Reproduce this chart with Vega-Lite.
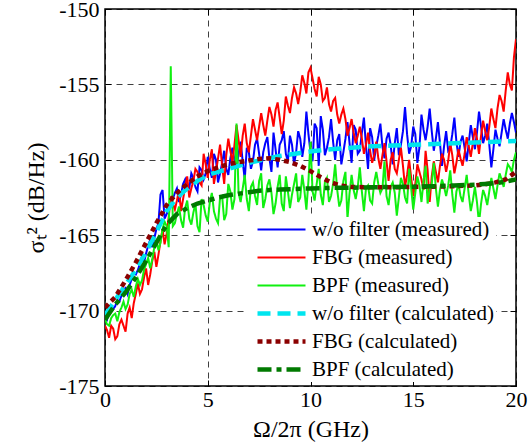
{
"$schema": "https://vega.github.io/schema/vega-lite/v6.json",
"width": 411, "height": 377,
"autosize": "none",
"padding": {"left": 105, "top": 9, "right": 12, "bottom": 60},
"config": {
  "font": "Liberation Serif",
  "view": {"stroke": "#000", "strokeWidth": 1.5},
  "axis": {"labelFont": "Liberation Serif", "titleFont": "Liberation Serif", "labelFontSize": 22, "titleFontSize": 24, "labelColor": "#000", "titleColor": "#000", "titleFontWeight": "normal", "tickColor": "#000", "domain": false, "gridColor": "#000", "gridDash": [6, 5], "gridOpacity": 0.75, "tickSize": -6, "tickWidth": 1}
},
"datasets": {
"meas": [
{"x":0.0,"wo_m":-170.4,"fbg_m":-171.0,"bpf_m":-170.6},
{"x":0.2,"wo_m":-170.1,"fbg_m":-171.8,"bpf_m":-171.0},
{"x":0.4,"wo_m":-169.9,"fbg_m":-171.2,"bpf_m":-170.3},
{"x":0.6,"wo_m":-169.3,"fbg_m":-171.7,"bpf_m":-170.7},
{"x":0.8,"wo_m":-169.0,"fbg_m":-170.6,"bpf_m":-169.8},
{"x":1.0,"wo_m":-168.5,"fbg_m":-171.4,"bpf_m":-169.9},
{"x":1.2,"wo_m":-168.3,"fbg_m":-169.8,"bpf_m":-168.9},
{"x":1.4,"wo_m":-167.5,"fbg_m":-169.5,"bpf_m":-169.1},
{"x":1.6,"wo_m":-167.3,"fbg_m":-168.2,"bpf_m":-167.9},
{"x":1.8,"wo_m":-166.4,"fbg_m":-168.6,"bpf_m":-168.0},
{"x":2.0,"wo_m":-166.2,"fbg_m":-167.2,"bpf_m":-166.9},
{"x":2.2,"wo_m":-165.3,"fbg_m":-167.6,"bpf_m":-167.2},
{"x":2.4,"wo_m":-165.2,"fbg_m":-166.1,"bpf_m":-165.8},
{"x":2.6,"wo_m":-164.2,"fbg_m":-166.3,"bpf_m":-166.0},
{"x":2.8,"wo_m":-162.0,"fbg_m":-164.6,"bpf_m":-164.6},
{"x":3.0,"wo_m":-163.6,"fbg_m":-164.9,"bpf_m":-164.4},
{"x":3.1,"wo_m":-163.2,"fbg_m":-163.8,"bpf_m":-165.8},
{"x":3.2,"wo_m":-162.9,"fbg_m":-162.4,"bpf_m":-153.8},
{"x":3.3,"wo_m":-162.6,"fbg_m":-162.9,"bpf_m":-164.4},
{"x":3.4,"wo_m":-162.2,"fbg_m":-163.3,"bpf_m":-164.2},
{"x":3.6,"wo_m":-162.8,"fbg_m":-162.0,"bpf_m":-163.1},
{"x":3.8,"wo_m":-161.6,"fbg_m":-162.6,"bpf_m":-164.5},
{"x":4.0,"wo_m":-162.0,"fbg_m":-161.1,"bpf_m":-162.7},
{"x":4.2,"wo_m":-160.9,"fbg_m":-161.9,"bpf_m":-164.3},
{"x":4.4,"wo_m":-161.8,"fbg_m":-160.6,"bpf_m":-162.9},
{"x":4.6,"wo_m":-160.5,"fbg_m":-161.5,"bpf_m":-164.8},
{"x":4.8,"wo_m":-161.3,"fbg_m":-159.6,"bpf_m":-163.0},
{"x":5.0,"wo_m":-159.8,"fbg_m":-161.2,"bpf_m":-164.1},
{"x":5.2,"wo_m":-161.2,"fbg_m":-159.3,"bpf_m":-162.2},
{"x":5.4,"wo_m":-160.0,"fbg_m":-160.8,"bpf_m":-163.9},
{"x":5.6,"wo_m":-160.9,"fbg_m":-159.0,"bpf_m":-162.5},
{"x":5.8,"wo_m":-159.4,"fbg_m":-161.6,"bpf_m":-164.0},
{"x":6.0,"wo_m":-161.0,"fbg_m":-158.6,"bpf_m":-161.6},
{"x":6.2,"wo_m":-159.2,"fbg_m":-160.2,"bpf_m":-163.3},
{"x":6.3,"wo_m":-160.0,"fbg_m":-159.0,"bpf_m":-162.6},
{"x":6.4,"wo_m":-160.6,"fbg_m":-157.7,"bpf_m":-157.6},
{"x":6.5,"wo_m":-159.6,"fbg_m":-158.7,"bpf_m":-162.2},
{"x":6.6,"wo_m":-158.8,"fbg_m":-159.8,"bpf_m":-162.8},
{"x":6.8,"wo_m":-161.3,"fbg_m":-157.6,"bpf_m":-161.0},
{"x":7.0,"wo_m":-159.5,"fbg_m":-159.5,"bpf_m":-163.4},
{"x":7.2,"wo_m":-160.1,"fbg_m":-157.3,"bpf_m":-161.5},
{"x":7.4,"wo_m":-158.6,"fbg_m":-158.7,"bpf_m":-163.0},
{"x":7.6,"wo_m":-160.7,"fbg_m":-156.9,"bpf_m":-160.9},
{"x":7.8,"wo_m":-158.9,"fbg_m":-158.4,"bpf_m":-162.6},
{"x":8.0,"wo_m":-159.9,"fbg_m":-156.5,"bpf_m":-161.3},
{"x":8.2,"wo_m":-158.2,"fbg_m":-157.8,"bpf_m":-163.6},
{"x":8.4,"wo_m":-160.5,"fbg_m":-156.2,"bpf_m":-161.8},
{"x":8.6,"wo_m":-158.7,"fbg_m":-158.3,"bpf_m":-162.9},
{"x":8.8,"wo_m":-159.6,"fbg_m":-155.8,"bpf_m":-161.1},
{"x":9.0,"wo_m":-158.4,"fbg_m":-156.9,"bpf_m":-163.2},
{"x":9.2,"wo_m":-160.3,"fbg_m":-155.2,"bpf_m":-161.6},
{"x":9.4,"wo_m":-158.1,"fbg_m":-156.3,"bpf_m":-162.8},
{"x":9.6,"wo_m":-159.8,"fbg_m":-154.4,"bpf_m":-161.0},
{"x":9.8,"wo_m":-156.8,"fbg_m":-155.6,"bpf_m":-163.3},
{"x":10.0,"wo_m":-159.5,"fbg_m":-153.9,"bpf_m":-158.8},
{"x":10.2,"wo_m":-157.6,"fbg_m":-155.3,"bpf_m":-162.7},
{"x":10.4,"wo_m":-160.4,"fbg_m":-154.5,"bpf_m":-160.6},
{"x":10.6,"wo_m":-158.0,"fbg_m":-156.1,"bpf_m":-163.0},
{"x":10.8,"wo_m":-159.2,"fbg_m":-155.2,"bpf_m":-161.2},
{"x":11.0,"wo_m":-157.3,"fbg_m":-156.8,"bpf_m":-162.4},
{"x":11.2,"wo_m":-160.0,"fbg_m":-155.9,"bpf_m":-160.3},
{"x":11.4,"wo_m":-158.3,"fbg_m":-157.6,"bpf_m":-163.1},
{"x":11.6,"wo_m":-159.5,"fbg_m":-156.6,"bpf_m":-161.4},
{"x":11.8,"wo_m":-157.5,"fbg_m":-158.4,"bpf_m":-163.9},
{"x":12.0,"wo_m":-160.2,"fbg_m":-157.3,"bpf_m":-161.0},
{"x":12.2,"wo_m":-158.0,"fbg_m":-158.9,"bpf_m":-162.6},
{"x":12.4,"wo_m":-159.4,"fbg_m":-157.8,"bpf_m":-160.5},
{"x":12.6,"wo_m":-157.2,"fbg_m":-159.6,"bpf_m":-163.4},
{"x":12.8,"wo_m":-160.6,"fbg_m":-158.2,"bpf_m":-161.7},
{"x":13.0,"wo_m":-158.5,"fbg_m":-160.2,"bpf_m":-162.9},
{"x":13.2,"wo_m":-159.1,"fbg_m":-158.8,"bpf_m":-160.8},
{"x":13.4,"wo_m":-157.6,"fbg_m":-160.6,"bpf_m":-162.2},
{"x":13.6,"wo_m":-159.9,"fbg_m":-158.9,"bpf_m":-160.1},
{"x":13.8,"wo_m":-158.2,"fbg_m":-161.4,"bpf_m":-163.0},
{"x":14.0,"wo_m":-160.3,"fbg_m":-159.5,"bpf_m":-161.5},
{"x":14.2,"wo_m":-157.9,"fbg_m":-160.9,"bpf_m":-163.7},
{"x":14.4,"wo_m":-159.0,"fbg_m":-159.2,"bpf_m":-161.2},
{"x":14.6,"wo_m":-156.5,"fbg_m":-161.8,"bpf_m":-162.5},
{"x":14.8,"wo_m":-159.6,"fbg_m":-160.0,"bpf_m":-160.6},
{"x":15.0,"wo_m":-157.8,"fbg_m":-162.4,"bpf_m":-163.3},
{"x":15.2,"wo_m":-160.2,"fbg_m":-160.3,"bpf_m":-161.1},
{"x":15.4,"wo_m":-157.0,"fbg_m":-161.3,"bpf_m":-162.8},
{"x":15.6,"wo_m":-158.7,"fbg_m":-159.4,"bpf_m":-160.4},
{"x":15.8,"wo_m":-156.6,"fbg_m":-162.8,"bpf_m":-161.9},
{"x":16.0,"wo_m":-159.4,"fbg_m":-160.1,"bpf_m":-160.2},
{"x":16.2,"wo_m":-157.5,"fbg_m":-161.5,"bpf_m":-163.1},
{"x":16.4,"wo_m":-160.4,"fbg_m":-159.6,"bpf_m":-161.3},
{"x":16.6,"wo_m":-158.1,"fbg_m":-160.8,"bpf_m":-162.4},
{"x":16.8,"wo_m":-159.2,"fbg_m":-158.9,"bpf_m":-160.7},
{"x":17.0,"wo_m":-157.2,"fbg_m":-160.9,"bpf_m":-163.5},
{"x":17.2,"wo_m":-159.8,"fbg_m":-159.3,"bpf_m":-161.6},
{"x":17.4,"wo_m":-158.4,"fbg_m":-160.4,"bpf_m":-162.8},
{"x":17.6,"wo_m":-160.1,"fbg_m":-158.5,"bpf_m":-161.0},
{"x":17.8,"wo_m":-157.7,"fbg_m":-159.8,"bpf_m":-163.4},
{"x":18.0,"wo_m":-159.3,"fbg_m":-157.9,"bpf_m":-161.8},
{"x":18.2,"wo_m":-156.8,"fbg_m":-159.6,"bpf_m":-164.2},
{"x":18.4,"wo_m":-158.9,"fbg_m":-157.4,"bpf_m":-162.0},
{"x":18.6,"wo_m":-157.6,"fbg_m":-158.7,"bpf_m":-163.0},
{"x":18.8,"wo_m":-160.5,"fbg_m":-156.6,"bpf_m":-161.2},
{"x":19.0,"wo_m":-158.0,"fbg_m":-157.9,"bpf_m":-162.6},
{"x":19.2,"wo_m":-159.1,"fbg_m":-155.7,"bpf_m":-160.9},
{"x":19.4,"wo_m":-157.3,"fbg_m":-156.8,"bpf_m":-161.8},
{"x":19.6,"wo_m":-158.6,"fbg_m":-154.2,"bpf_m":-160.3},
{"x":19.8,"wo_m":-156.9,"fbg_m":-155.4,"bpf_m":-160.8},
{"x":20.0,"wo_m":-158.2,"fbg_m":-152.0,"bpf_m":-159.5},
{"x":0.1,"wo_m":-170.6,"fbg_m":-171.3,"bpf_m":-170.9},
{"x":0.3,"wo_m":-169.8,"fbg_m":-171.0,"bpf_m":-170.5},
{"x":0.5,"wo_m":-169.7,"fbg_m":-171.9,"bpf_m":-170.2},
{"x":0.7,"wo_m":-169.4,"fbg_m":-170.9,"bpf_m":-170.1},
{"x":0.9,"wo_m":-168.6,"fbg_m":-171.0,"bpf_m":-169.4},
{"x":1.1,"wo_m":-168.9,"fbg_m":-170.2,"bpf_m":-169.6},
{"x":1.3,"wo_m":-167.9,"fbg_m":-170.5,"bpf_m":-168.6},
{"x":1.5,"wo_m":-167.6,"fbg_m":-168.9,"bpf_m":-168.4},
{"x":1.7,"wo_m":-166.9,"fbg_m":-168.9,"bpf_m":-168.3},
{"x":1.9,"wo_m":-166.8,"fbg_m":-167.8,"bpf_m":-167.3},
{"x":2.1,"wo_m":-165.7,"fbg_m":-168.3,"bpf_m":-166.5},
{"x":2.3,"wo_m":-165.8,"fbg_m":-166.7,"bpf_m":-166.6},
{"x":2.5,"wo_m":-164.6,"fbg_m":-167.1,"bpf_m":-165.3},
{"x":2.7,"wo_m":-162.3,"fbg_m":-165.4,"bpf_m":-165.5},
{"x":2.9,"wo_m":-163.9,"fbg_m":-165.6,"bpf_m":-164.1},
{"x":3.5,"wo_m":-161.9,"fbg_m":-162.7,"bpf_m":-163.6},
{"x":3.7,"wo_m":-162.3,"fbg_m":-163.4,"bpf_m":-164.0},
{"x":3.9,"wo_m":-161.3,"fbg_m":-161.8,"bpf_m":-163.2},
{"x":4.1,"wo_m":-161.9,"fbg_m":-162.5,"bpf_m":-163.9},
{"x":4.3,"wo_m":-161.2,"fbg_m":-161.4,"bpf_m":-163.5},
{"x":4.5,"wo_m":-162.1,"fbg_m":-160.8,"bpf_m":-164.4},
{"x":4.7,"wo_m":-160.7,"fbg_m":-161.7,"bpf_m":-162.6},
{"x":4.9,"wo_m":-160.9,"fbg_m":-160.3,"bpf_m":-163.7},
{"x":5.1,"wo_m":-160.6,"fbg_m":-160.0,"bpf_m":-162.8},
{"x":5.3,"wo_m":-159.6,"fbg_m":-161.6,"bpf_m":-163.4},
{"x":5.5,"wo_m":-161.5,"fbg_m":-159.9,"bpf_m":-164.2},
{"x":5.7,"wo_m":-160.2,"fbg_m":-160.4,"bpf_m":-162.4},
{"x":5.9,"wo_m":-160.6,"fbg_m":-159.7,"bpf_m":-163.6},
{"x":6.1,"wo_m":-159.9,"fbg_m":-159.4,"bpf_m":-162.1},
{"x":6.7,"wo_m":-160.1,"fbg_m":-158.4,"bpf_m":-161.9},
{"x":6.9,"wo_m":-159.2,"fbg_m":-158.9,"bpf_m":-162.6},
{"x":7.1,"wo_m":-160.6,"fbg_m":-158.4,"bpf_m":-161.8},
{"x":7.3,"wo_m":-159.0,"fbg_m":-158.0,"bpf_m":-162.4},
{"x":7.5,"wo_m":-159.6,"fbg_m":-157.8,"bpf_m":-161.4},
{"x":7.7,"wo_m":-159.5,"fbg_m":-157.7,"bpf_m":-163.2},
{"x":7.9,"wo_m":-158.5,"fbg_m":-157.4,"bpf_m":-161.7},
{"x":8.1,"wo_m":-160.8,"fbg_m":-157.0,"bpf_m":-162.2},
{"x":8.3,"wo_m":-159.3,"fbg_m":-156.7,"bpf_m":-162.9},
{"x":8.5,"wo_m":-159.0,"fbg_m":-157.2,"bpf_m":-161.0},
{"x":8.7,"wo_m":-158.1,"fbg_m":-157.4,"bpf_m":-163.4},
{"x":8.9,"wo_m":-160.1,"fbg_m":-156.4,"bpf_m":-162.1},
{"x":9.1,"wo_m":-159.0,"fbg_m":-155.9,"bpf_m":-162.3},
{"x":9.3,"wo_m":-159.5,"fbg_m":-155.6,"bpf_m":-160.9},
{"x":9.5,"wo_m":-158.6,"fbg_m":-155.5,"bpf_m":-162.5},
{"x":9.7,"wo_m":-158.9,"fbg_m":-154.9,"bpf_m":-162.0},
{"x":9.9,"wo_m":-158.3,"fbg_m":-154.2,"bpf_m":-161.4},
{"x":10.1,"wo_m":-160.1,"fbg_m":-154.6,"bpf_m":-162.1},
{"x":10.3,"wo_m":-157.9,"fbg_m":-155.8,"bpf_m":-161.6},
{"x":10.5,"wo_m":-157.1,"fbg_m":-155.0,"bpf_m":-162.3},
{"x":10.7,"wo_m":-159.7,"fbg_m":-155.9,"bpf_m":-161.5},
{"x":10.9,"wo_m":-158.5,"fbg_m":-156.3,"bpf_m":-162.8},
{"x":11.1,"wo_m":-158.8,"fbg_m":-156.1,"bpf_m":-161.6},
{"x":11.3,"wo_m":-158.7,"fbg_m":-157.0,"bpf_m":-162.0},
{"x":11.5,"wo_m":-160.3,"fbg_m":-157.0,"bpf_m":-162.7},
{"x":11.7,"wo_m":-158.6,"fbg_m":-157.3,"bpf_m":-160.8},
{"x":11.9,"wo_m":-158.9,"fbg_m":-157.9,"bpf_m":-162.2},
{"x":12.1,"wo_m":-157.7,"fbg_m":-158.2,"bpf_m":-162.0},
{"x":12.3,"wo_m":-159.6,"fbg_m":-158.4,"bpf_m":-161.8},
{"x":12.5,"wo_m":-158.2,"fbg_m":-158.6,"bpf_m":-162.1},
{"x":12.7,"wo_m":-159.1,"fbg_m":-159.0,"bpf_m":-161.9},
{"x":12.9,"wo_m":-157.9,"fbg_m":-159.4,"bpf_m":-162.7},
{"x":13.1,"wo_m":-160.0,"fbg_m":-159.7,"bpf_m":-161.5},
{"x":13.3,"wo_m":-158.4,"fbg_m":-159.9,"bpf_m":-161.6},
{"x":13.5,"wo_m":-159.1,"fbg_m":-159.7,"bpf_m":-161.9},
{"x":13.7,"wo_m":-158.6,"fbg_m":-160.1,"bpf_m":-162.4},
{"x":13.9,"wo_m":-159.0,"fbg_m":-160.0,"bpf_m":-161.8},
{"x":14.1,"wo_m":-158.9,"fbg_m":-160.6,"bpf_m":-162.2},
{"x":14.3,"wo_m":-159.7,"fbg_m":-160.0,"bpf_m":-162.5},
{"x":14.5,"wo_m":-158.1,"fbg_m":-160.4,"bpf_m":-161.6},
{"x":14.7,"wo_m":-158.3,"fbg_m":-161.0,"bpf_m":-162.9},
{"x":14.9,"wo_m":-159.1,"fbg_m":-161.2,"bpf_m":-161.9},
{"x":15.1,"wo_m":-158.3,"fbg_m":-161.6,"bpf_m":-162.2},
{"x":15.3,"wo_m":-159.2,"fbg_m":-160.8,"bpf_m":-161.7},
{"x":15.5,"wo_m":-158.0,"fbg_m":-162.0,"bpf_m":-161.4},
{"x":15.7,"wo_m":-157.8,"fbg_m":-160.7,"bpf_m":-162.9},
{"x":15.9,"wo_m":-158.1,"fbg_m":-161.1,"bpf_m":-161.6},
{"x":16.1,"wo_m":-158.6,"fbg_m":-160.8,"bpf_m":-161.9},
{"x":16.3,"wo_m":-158.9,"fbg_m":-160.4,"bpf_m":-162.0},
{"x":16.5,"wo_m":-159.1,"fbg_m":-160.0,"bpf_m":-161.8},
{"x":16.7,"wo_m":-159.4,"fbg_m":-160.1,"bpf_m":-161.7},
{"x":16.9,"wo_m":-158.3,"fbg_m":-159.7,"bpf_m":-162.3},
{"x":17.1,"wo_m":-158.8,"fbg_m":-160.2,"bpf_m":-162.1},
{"x":17.3,"wo_m":-158.8,"fbg_m":-159.9,"bpf_m":-162.4},
{"x":17.5,"wo_m":-159.2,"fbg_m":-159.6,"bpf_m":-161.9},
{"x":17.7,"wo_m":-158.9,"fbg_m":-159.1,"bpf_m":-162.3},
{"x":17.9,"wo_m":-158.5,"fbg_m":-158.9,"bpf_m":-162.7},
{"x":18.1,"wo_m":-158.2,"fbg_m":-158.6,"bpf_m":-162.8},
{"x":18.3,"wo_m":-157.8,"fbg_m":-158.4,"bpf_m":-162.9},
{"x":18.5,"wo_m":-158.4,"fbg_m":-158.1,"bpf_m":-162.4},
{"x":18.7,"wo_m":-159.0,"fbg_m":-157.8,"bpf_m":-162.1},
{"x":18.9,"wo_m":-159.3,"fbg_m":-157.3,"bpf_m":-161.9},
{"x":19.1,"wo_m":-158.6,"fbg_m":-156.6,"bpf_m":-161.7},
{"x":19.3,"wo_m":-158.2,"fbg_m":-156.1,"bpf_m":-161.3},
{"x":19.5,"wo_m":-158.0,"fbg_m":-155.4,"bpf_m":-161.0},
{"x":19.7,"wo_m":-157.6,"fbg_m":-155.0,"bpf_m":-160.5},
{"x":19.9,"wo_m":-157.5,"fbg_m":-153.2,"bpf_m":-160.0}
],
"calc": [
{"x":0,"wo_c":-170.3,"fbg_c":-169.8,"bpf_c":-170.6},
{"x":0.5,"wo_c":-169.3,"fbg_c":-169.1,"bpf_c":-169.6},
{"x":1,"wo_c":-168.3,"fbg_c":-168.0,"bpf_c":-168.8},
{"x":1.5,"wo_c":-167.3,"fbg_c":-166.8,"bpf_c":-167.8},
{"x":2,"wo_c":-166.1,"fbg_c":-165.5,"bpf_c":-166.7},
{"x":2.5,"wo_c":-164.8,"fbg_c":-164.2,"bpf_c":-165.5},
{"x":3,"wo_c":-163.4,"fbg_c":-163.0,"bpf_c":-164.3},
{"x":3.5,"wo_c":-162.5,"fbg_c":-162.2,"bpf_c":-163.6},
{"x":4,"wo_c":-161.9,"fbg_c":-161.6,"bpf_c":-163.2},
{"x":4.5,"wo_c":-161.4,"fbg_c":-161.1,"bpf_c":-162.9},
{"x":5,"wo_c":-161.0,"fbg_c":-160.75,"bpf_c":-162.7},
{"x":5.5,"wo_c":-160.8,"fbg_c":-160.5,"bpf_c":-162.5},
{"x":6,"wo_c":-160.6,"fbg_c":-160.3,"bpf_c":-162.35},
{"x":6.5,"wo_c":-160.4,"fbg_c":-160.15,"bpf_c":-162.25},
{"x":7,"wo_c":-160.2,"fbg_c":-160.05,"bpf_c":-162.15},
{"x":7.5,"wo_c":-160.05,"fbg_c":-159.95,"bpf_c":-162.05},
{"x":8,"wo_c":-159.9,"fbg_c":-159.9,"bpf_c":-162.0},
{"x":8.5,"wo_c":-159.75,"fbg_c":-160.0,"bpf_c":-161.97},
{"x":9,"wo_c":-159.65,"fbg_c":-160.15,"bpf_c":-161.95},
{"x":9.5,"wo_c":-159.55,"fbg_c":-160.4,"bpf_c":-161.92},
{"x":10,"wo_c":-159.45,"fbg_c":-160.75,"bpf_c":-161.9},
{"x":10.5,"wo_c":-159.37,"fbg_c":-161.15,"bpf_c":-161.88},
{"x":11,"wo_c":-159.3,"fbg_c":-161.5,"bpf_c":-161.86},
{"x":11.5,"wo_c":-159.25,"fbg_c":-161.72,"bpf_c":-161.85},
{"x":12,"wo_c":-159.2,"fbg_c":-161.8,"bpf_c":-161.85},
{"x":13,"wo_c":-159.1,"fbg_c":-161.82,"bpf_c":-161.82},
{"x":14,"wo_c":-159.05,"fbg_c":-161.82,"bpf_c":-161.8},
{"x":15,"wo_c":-159.0,"fbg_c":-161.8,"bpf_c":-161.78},
{"x":16,"wo_c":-158.95,"fbg_c":-161.78,"bpf_c":-161.75},
{"x":17,"wo_c":-158.9,"fbg_c":-161.75,"bpf_c":-161.7},
{"x":18,"wo_c":-158.85,"fbg_c":-161.7,"bpf_c":-161.65},
{"x":18.5,"wo_c":-158.83,"fbg_c":-161.62,"bpf_c":-161.6},
{"x":19,"wo_c":-158.8,"fbg_c":-161.5,"bpf_c":-161.55},
{"x":19.5,"wo_c":-158.78,"fbg_c":-161.3,"bpf_c":-161.45},
{"x":20,"wo_c":-158.75,"fbg_c":-160.8,"bpf_c":-161.3}
]
},
"layer": [
{
  "data": {"name": "meas"},
  "transform": [{"fold": ["wo_m", "fbg_m", "bpf_m"], "as": ["series", "value"]}],
  "mark": {"type": "line", "strokeCap": "butt", "clip": true, "strokeWidth": 2},
  "encoding": {
    "x": {"field": "x", "type": "quantitative", "scale": {"domain": [0, 20], "nice": false}, "axis": {"orient": "bottom", "values": [0, 5, 10, 15, 20], "title": "Ω/2π (GHz)", "grid": true, "labelPadding": 9, "titlePadding": 7, "labelFlush": false}},
    "y": {"field": "value", "type": "quantitative", "scale": {"domain": [-175, -150], "nice": false, "zero": false}, "axis": {"orient": "left", "values": [-175, -170, -165, -160, -155, -150], "title": "σₜ² (dB/Hz)", "grid": true, "labelPadding": 12, "titlePadding": 10, "labelExpr": "toString(datum.value)"}},
    "color": {"field": "series", "type": "nominal",
      "scale": {"domain": ["wo_m", "fbg_m", "bpf_m", "wo_c", "fbg_c", "bpf_c"], "range": ["#0000ff", "#ff0000", "#10f010", "#00e5ee", "#8b0000", "#007a00"]},
      "legend": {"orient": "none", "legendX": 140, "legendY": 208, "title": null, "zindex": 1, "labelFont": "Liberation Serif", "labelFontSize": 21, "labelColor": "#000", "labelLimit": 400, "labelOffset": 44, "symbolType": "M0,0H12", "symbolSize": 64, "symbolStrokeWidth": {"expr": "datum.value == 'wo_c' || datum.value == 'fbg_c' || datum.value == 'bpf_c' ? 4.5 : 2"}, "rowPadding": 6, "padding": 2, "fillColor": "#ffffff",
        "labelExpr": "datum.label == 'wo_m' ? 'w/o filter (measured)' : datum.label == 'fbg_m' ? 'FBG (measured)' : datum.label == 'bpf_m' ? 'BPF (measured)' : datum.label == 'wo_c' ? 'w/o filter (calculated)' : datum.label == 'fbg_c' ? 'FBG (calculated)' : 'BPF (calculated)'"}},
    "strokeDash": {"field": "series", "type": "nominal", "scale": {"domain": ["wo_m", "fbg_m", "bpf_m", "wo_c", "fbg_c", "bpf_c"], "range": [[1, 0], [1, 0], [1, 0], [13, 7], [5, 4], [14, 5, 5, 5]]}}
  }
},
{
  "data": {"name": "calc"},
  "transform": [{"fold": ["wo_c", "fbg_c", "bpf_c"], "as": ["series", "value"]}],
  "mark": {"type": "line", "strokeCap": "butt", "clip": true, "strokeWidth": 4.5},
  "encoding": {
    "x": {"field": "x", "type": "quantitative", "axis": {"orient": "top", "values": [0, 5, 10, 15, 20], "labels": false, "title": null, "grid": false}},
    "y": {"field": "value", "type": "quantitative", "axis": {"orient": "right", "values": [-175, -170, -165, -160, -155, -150], "labels": false, "title": null, "grid": false}},
    "color": {"field": "series", "type": "nominal"},
    "strokeDash": {"field": "series", "type": "nominal"}
  }
}
],
"resolve": {"axis": {"x": "independent", "y": "independent"}}
}
